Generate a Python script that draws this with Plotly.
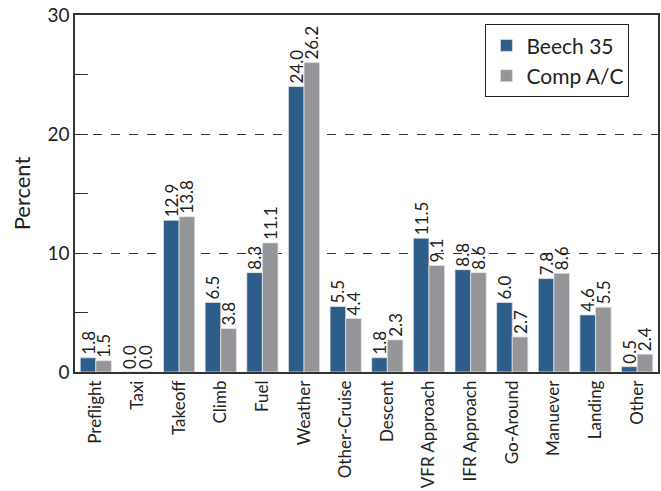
import plotly.graph_objects as go

categories = ["Preflight", "Taxi", "Takeoff", "Climb", "Fuel", "Weather", "Other-Cruise",
              "Descent", "VFR Approach", "IFR Approach", "Go-Around", "Manuever", "Landing", "Other"]

# bar heights as drawn in the picture
beech_35 = [1.2, 0.0, 12.75, 5.85, 8.35, 24.0, 5.5, 1.2, 11.25, 8.6, 5.85, 7.85, 4.8, 0.45]
comp_ac = [0.95, 0.0, 13.05, 3.65, 10.85, 26.0, 4.5, 2.7, 8.95, 8.35, 2.95, 8.3, 5.45, 1.5]

# value labels as printed above the bars
beech_35_labels = ["1.8", "0.0", "12.9", "6.5", "8.3", "24.0", "5.5", "1.8", "11.5", "8.8", "6.0", "7.8", "4.6", "0.5"]
comp_ac_labels = ["1.5", "0.0", "13.8", "3.8", "11.1", "26.2", "4.4", "2.3", "9.1", "8.6", "2.7", "8.6", "5.5", "2.4"]

font = "Lato, 'Open Sans', sans-serif"

fig = go.Figure()
fig.add_trace(go.Bar(
    x=categories, y=beech_35, name="Beech 35",
    text=beech_35_labels, textposition="outside", textangle=-90,
    constraintext="none", cliponaxis=False,
    marker=dict(color="#2f5d8a", line=dict(color="#dde3ea", width=0.8)),
    textfont=dict(size=17, color="#222"),
))
fig.add_trace(go.Bar(
    x=categories, y=comp_ac, name="Comp A/C",
    text=comp_ac_labels, textposition="outside", textangle=-90,
    constraintext="none", cliponaxis=False,
    marker=dict(color="#939598", line=dict(color="#e2e2e2", width=0.8)),
    textfont=dict(size=17, color="#222"),
))

fig.update_layout(
    width=661, height=491,
    margin=dict(l=75, r=3, t=15, b=119),
    paper_bgcolor="white", plot_bgcolor="white",
    font=dict(family=font, color="#222"),
    barmode="group", bargap=0.25, bargroupgap=0,
    legend=dict(
        x=0.704, y=0.974, xanchor="left", yanchor="top",
        bgcolor="white", bordercolor="#222", borderwidth=1,
        font=dict(size=21), tracegroupgap=0,
    ),
)

fig.update_xaxes(
    tickangle=-90, tickfont=dict(size=17), automargin=False,
    showline=True, mirror=True, linecolor="#333", linewidth=1.5,
    ticks="", showgrid=False,
)
fig.update_yaxes(
    range=[0, 30], tickvals=[0, 10, 20, 30], automargin=False,
    tickfont=dict(size=19),
    title=dict(text="Percent", font=dict(size=22), standoff=11),
    showline=True, mirror=True, linecolor="#333", linewidth=1.5,
    ticks="inside", ticklen=13, tickcolor="#333",
    showgrid=True, gridcolor="#333", gridwidth=1, griddash="dash",
    zeroline=False,
    minor=dict(dtick=5, ticks="inside", ticklen=13, tickcolor="#333", showgrid=False),
)

# drop the browser's default body margin so the chart sits at the window origin
fig.write_html("out.html", config={"displayModeBar": False},
               post_script="document.body.style.margin='0';")
